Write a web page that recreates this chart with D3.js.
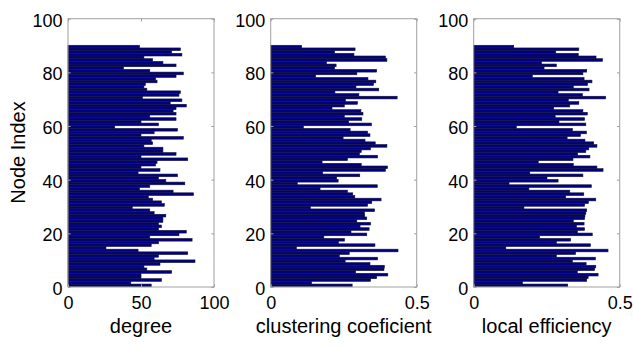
<!DOCTYPE html>
<html>
<head>
<meta charset="utf-8">
<script src="https://cdn.jsdelivr.net/npm/d3@7"></script>
<style>
  html, body { margin: 0; padding: 0; background: #fff; }
  svg text { font-family: "Liberation Sans", Arial, sans-serif; fill: #000; }
</style>
</head>
<body>
<svg id="chart" width="633" height="348"></svg>
<script>
// Node indices 1..90
const nodes = d3.range(1, 91);

// degree per node (node 1 .. 90)
const degree = [57,43,64,50,50,71,54,52,63,87,59,62,82,48,26,57,62,85,56,76,
  81,62,64,62,65,65,67,59,56,44,66,64,58,55,86,72,49,56,80,67,
  62,75,48,63,50,60,61,82,50,74,65,65,52,58,57,79,50,59,75,32,
  62,50,74,56,74,72,74,81,70,78,51,76,77,54,52,53,61,60,74,79,
  56,38,74,65,58,52,78,71,77,49];

// clustering coefficient per node
const clustering = [.279,.140,.342,.363,.401,.291,.388,.389,.340,.255,.366,.235,.269,.436,.088,.357,.232,.253,.182,.329,
  .275,.337,.306,.342,.295,.329,.322,.321,.356,.136,.332,.346,.378,.288,.281,.263,.169,.365,.091,.231,
  .226,.305,.178,.393,.400,.310,.176,.263,.366,.304,.310,.342,.398,.358,.323,.248,.340,.332,.272,.112,
  .345,.267,.312,.252,.316,.309,.210,.252,.297,.256,.433,.302,.220,.370,.292,.352,.360,.333,.154,.295,
  .363,.219,.224,.191,.398,.393,.285,.219,.289,.106];

// local efficiency per node
const localEff = [.322,.167,.387,.392,.426,.355,.414,.418,.385,.338,.417,.283,.349,.460,.110,.400,.283,.332,.226,.406,
  .355,.380,.352,.378,.341,.380,.381,.384,.387,.172,.380,.393,.418,.315,.377,.329,.189,.403,.121,.289,
  .251,.374,.192,.443,.422,.341,.221,.340,.398,.356,.384,.394,.422,.411,.381,.320,.366,.386,.338,.146,
  .384,.292,.380,.279,.389,.374,.274,.329,.360,.324,.452,.372,.289,.395,.341,.390,.405,.378,.201,.374,
  .387,.241,.283,.232,.441,.419,.358,.281,.360,.137];

const panels = [
  { values: degree,     xmax: 100, xticks: [0, 50, 100], xlabels: ["0","50","100"], label: "degree" },
  { values: clustering, xmax: 0.5, xticks: [0, 0.5],     xlabels: ["0","0.5"],      label: "clustering coeficient" },
  { values: localEff,   xmax: 0.5, xticks: [0, 0.5],     xlabels: ["0","0.5"],      label: "local efficiency" }
];
const yTicks = [0, 20, 40, 60, 80, 100];

const svg = d3.select("#chart");
const W = 146, H = 268.3, topY = 18.7;
const lefts = [68, 270.7, 473.7];
const boxColor = "#a0a0a0";
const tickLen = 2.7;

const y = d3.scaleLinear().domain([0, 100]).range([H, 0]);

panels.forEach((p, i) => {
  const g = svg.append("g").attr("transform", `translate(${lefts[i]},${topY})`);
  const x = d3.scaleLinear().domain([0, p.xmax]).range([0, W]);

  g.append("rect").attr("width", W).attr("height", H).attr("fill", "#fff");

  g.selectAll("rect.bar").data(nodes).join("rect")
    .attr("class", "bar")
    .attr("x", x(0))
    .attr("y", d => y(d + 0.1))
    .attr("height", d => y(d - 0.9) - y(d + 0.1))
    .attr("width", d => x(p.values[d - 1]) - x(0))
    .attr("fill", "#000080")
    .attr("stroke", "#14143a")
    .attr("stroke-width", 0.6);

  const xb = g.append("g").attr("transform", `translate(0,${H})`)
    .call(d3.axisBottom(x).tickValues(p.xticks).tickFormat((d, k) => p.xlabels[k])
      .tickSizeInner(-tickLen).tickSizeOuter(0).tickPadding(9));
  const xt = g.append("g")
    .call(d3.axisTop(x).tickValues(p.xticks).tickFormat("").tickSizeInner(-tickLen).tickSizeOuter(0));
  const yl = g.append("g")
    .call(d3.axisLeft(y).tickValues(yTicks).tickFormat(d3.format("d"))
      .tickSizeInner(-tickLen).tickSizeOuter(0).tickPadding(5.5));
  const yr = g.append("g").attr("transform", `translate(${W},0)`)
    .call(d3.axisRight(y).tickValues(yTicks).tickFormat("").tickSizeInner(-tickLen).tickSizeOuter(0));

  [xb, xt, yl, yr].forEach(a => {
    a.select(".domain").remove();
    a.selectAll(".tick line").attr("stroke", boxColor);
    a.selectAll("text").attr("font-size", 18).attr("font-family", '"Liberation Sans", Arial, sans-serif').attr("fill", "#000");
  });
  yl.selectAll("text").attr("dy", "0.42em");

  g.append("rect").attr("width", W).attr("height", H)
    .attr("fill", "none").attr("stroke", boxColor).attr("stroke-width", 1);

  g.append("text")
    .attr("x", W / 2).attr("y", 333 - topY)
    .attr("text-anchor", "middle").attr("font-size", 20)
    .text(p.label);
});

svg.append("text")
  .attr("transform", "translate(24.5,152.5) rotate(-90)")
  .attr("text-anchor", "middle").attr("font-size", 20)
  .text("Node Index");
</script>
</body>
</html>
